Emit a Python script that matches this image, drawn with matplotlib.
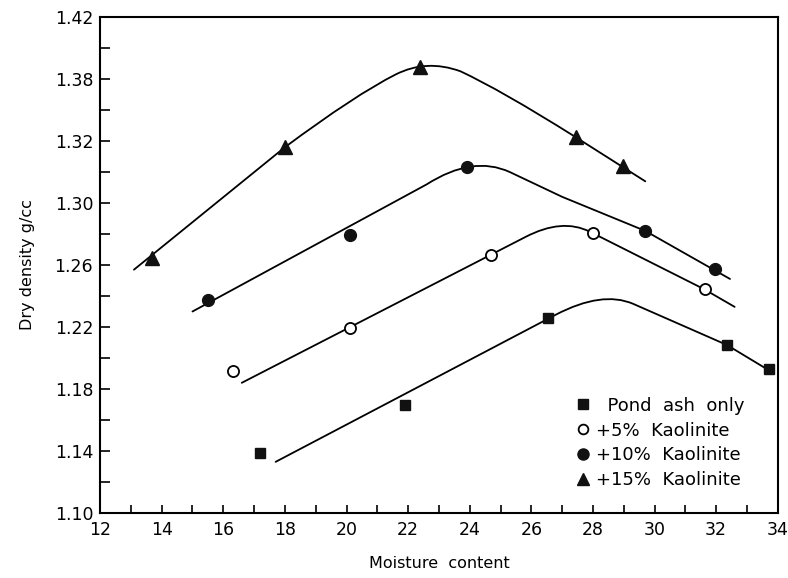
import matplotlib
matplotlib.use("Agg")
import matplotlib.pyplot as plt
from matplotlib.lines import Line2D
from matplotlib.path import Path
from matplotlib.patches import PathPatch
from matplotlib.ticker import MultipleLocator

# measured points (moisture content %, dry density g/cc)
ash_x = [17.2, 21.9, 26.55, 32.35, 33.7]
ash_y = [1.1385, 1.1697, 1.2256, 1.2084, 1.1927]
k5_x = [16.3, 20.1, 24.7, 28.0, 31.65]
k5_y = [1.1918, 1.2192, 1.2665, 1.2804, 1.2443]
k10_x = [15.5, 20.1, 23.9, 29.7, 31.95]
k10_y = [1.2374, 1.2794, 1.323, 1.282, 1.2572]
k15_x = [13.7, 18.0, 22.4, 27.45, 28.97]
k15_y = [1.2643, 1.3363, 1.388, 1.3428, 1.3239]

# hand-drawn compaction curves: vertices + path codes
M, L, Q = Path.MOVETO, Path.LINETO, Path.CURVE3
fit0 = [(17.7, 1.133), (26.8, 1.228), (28.3, 1.2435), (29.3, 1.235), (32.35, 1.2084), (33.8, 1.191)]
fit0_codes = [M, L, Q, Q, L, L]
fit5 = [(16.6, 1.184), (25.8, 1.278), (27.0, 1.2905), (27.9, 1.2815), (31.6, 1.2445), (32.6, 1.233)]
fit5_codes = [M, L, Q, Q, L, L]
fit10 = [(15.0, 1.230), (22.6, 1.312), (24.1, 1.331), (25.3, 1.320), (27.0, 1.304),
         (29.7, 1.282), (32.45, 1.251)]
fit10_codes = [M, L, Q, Q, L, L, L]
fit15 = [(13.1, 1.257), (18.0, 1.336), (20.3, 1.370), (21.6, 1.383), (22.6, 1.393),
         (23.7, 1.385), (25.0, 1.373), (27.4, 1.343), (29.7, 1.314)]
fit15_codes = [M, L, Q, Q, Q, Q, Q, Q, L]

y_ticks = [1.10, 1.14, 1.18, 1.22, 1.26, 1.30, 1.34, 1.38, 1.42]
y_labels = ["1.10", "1.14", "1.18", "1.22", "1.26", "1.30", "1.32", "1.38", "1.42"]
x_ticks = list(range(12, 35, 2))
legend_labels = ["  Pond  ash  only", "+5%  Kaolinite", "+10%  Kaolinite", "+15%  Kaolinite"]

fig = plt.figure(figsize=(7.88, 5.78), dpi=100)
ax = fig.add_axes([0.127, 0.1125, 0.86, 0.858])

for verts, codes in [(fit0, fit0_codes), (fit5, fit5_codes), (fit10, fit10_codes), (fit15, fit15_codes)]:
    ax.add_patch(PathPatch(Path(verts, codes), fill=False, edgecolor="black", lw=1.3,
                           capstyle="round", joinstyle="round"))

ax.plot(ash_x, ash_y, "s", color="#111111", ms=7, ls="none")
ax.plot(k5_x, k5_y, "o", mfc="white", mec="black", mew=1.3, ms=8, ls="none")
ax.plot(k10_x, k10_y, "o", color="#111111", ms=8.5, ls="none")
ax.plot(k15_x, k15_y, "^", color="#111111", ms=10, ls="none")

ax.set_xlim(12, 34)
ax.set_ylim(1.10, 1.42)
ax.set_xticks(x_ticks)
ax.xaxis.set_minor_locator(MultipleLocator(1))
ax.set_yticks(y_ticks)
ax.set_yticklabels(y_labels)
ax.yaxis.set_minor_locator(MultipleLocator(0.02))
ax.tick_params(which="both", direction="in", length=7, width=1.2, labelsize=12.5, pad=5)
ax.tick_params(axis="x", which="both", length=6, pad=6)
for s in ax.spines.values():
    s.set_linewidth(1.5)

ax.set_xlabel("Moisture  content", fontsize=11.5, labelpad=12)
ax.set_ylabel("Dry density g/cc", fontsize=11.5, labelpad=14)

handles = [
    Line2D([], [], marker="s", color="#111111", ls="none", ms=7),
    Line2D([], [], marker="o", mfc="white", mec="black", mew=1.3, ls="none", ms=7),
    Line2D([], [], marker="o", color="#111111", ls="none", ms=8),
    Line2D([], [], marker="^", color="#111111", ls="none", ms=9),
]
ax.legend(handles, legend_labels, loc="lower right", bbox_to_anchor=(0.975, 0.015),
          frameon=False, fontsize=13, handlelength=0.8, handletextpad=0.3,
          labelspacing=0.38)

fig.savefig("out.png", dpi=100)
